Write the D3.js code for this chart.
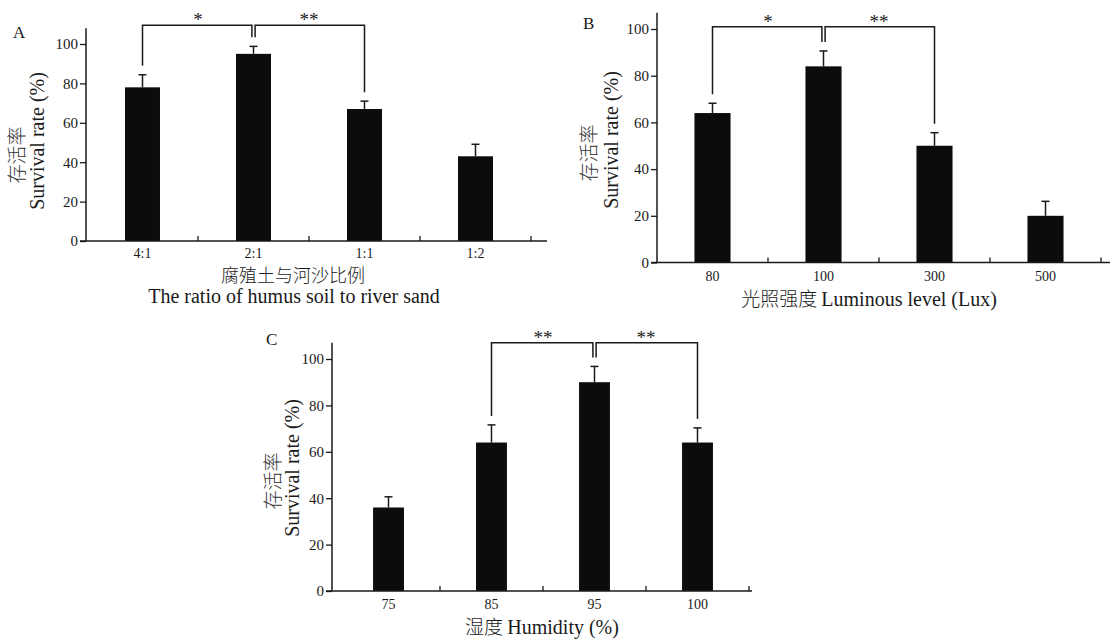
<!DOCTYPE html>
<html>
<head>
<meta charset="utf-8">
<script src="https://cdn.jsdelivr.net/npm/d3@7"></script>
<style>
  body { margin: 0; background: #fff; }
  svg { display: block; }
</style>
</head>
<body>
<svg width="1117" height="640"></svg>
<script>
const svg = d3.select('svg');

// data
const ratioCategories = ['4:1', '2:1', '1:1', '1:2'];
const ratioValues = [78, 95, 67, 43];
const ratioErrors = [6.4, 3.8, 4, 6.1];

const lightCategories = ['80', '100', '300', '500'];
const lightValues = [64, 84, 50, 20];
const lightErrors = [4.2, 6.6, 5.6, 6.2];

const humidityCategories = ['75', '85', '95', '100'];
const humidityValues = [36, 64, 90, 64];
const humidityErrors = [4.6, 7.6, 6.8, 6.3];

const yTicks = [0, 20, 40, 60, 80, 100];

// significance brackets: [from index, to index, label]
const ratioSig = [[0, 1, '*'], [1, 2, '**']];
const lightSig = [[0, 1, '*'], [1, 2, '**']];
const humiditySig = [[1, 2, '**'], [2, 3, '**']];

const serif = '"Liberation Serif", "Times New Roman", serif';
const cjk = '"Noto Sans CJK SC", sans-serif';
const ink = '#1a1a1a';

const panels = [
    {
        letter: 'A', letterPos: [13, 38],
        categories: ratioCategories, values: ratioValues, errors: ratioErrors, sig: ratioSig,
        yAxisX: 86, xRange: [87, 531], xEnd: 547, yRange: [241, 44], yMax: 108, barFrac: 0.315,
        bracketTop: 109.5, tickLabelY: 17,
        yTitle: {x: 44, y: 141, cnX: 24, cnY: 155},
        xTitle: [{x: 293, y: 282, text: '腐殖土与河沙比例', cn: true}, {x: 294, y: 303, text: 'The ratio of humus soil to river sand'}]
    },
    {
        letter: 'B', letterPos: [583, 29],
        categories: lightCategories, values: lightValues, errors: lightErrors, sig: lightSig,
        yAxisX: 657, xRange: [657, 1101], xEnd: 1110, yRange: [262.5, 29], yMax: 107, barFrac: 0.325,
        bracketTop: 101, tickLabelY: 18,
        yTitle: {x: 618, y: 140, cnX: 596, cnY: 153},
        xTitle: [{x: 869, y: 306, text: '光照强度 ', tail: 'Luminous level (Lux)'}]
    },
    {
        letter: 'C', letterPos: [266, 345],
        categories: humidityCategories, values: humidityValues, errors: humidityErrors, sig: humiditySig,
        yAxisX: 332, xRange: [337, 749], xEnd: 752, yRange: [591, 359], yMax: 107, barFrac: 0.3,
        bracketTop: 107, tickLabelY: 18,
        yTitle: {x: 299, y: 468, cnX: 280, cnY: 481},
        xTitle: [{x: 542, y: 634, text: '湿度 ', tail: 'Humidity (%)'}]
    }
];

const render = p => {
    const x = d3.scaleBand().domain(p.categories).range(p.xRange);
    const y = d3.scaleLinear().domain([0, 100]).range(p.yRange);
    const bw = x.bandwidth() * p.barFrac;
    const cx = i => x(p.categories[i]) + x.bandwidth() / 2;
    const g = svg.append('g');

    // bars
    g.selectAll('rect.bar').data(p.values).join('rect')
        .attr('class', 'bar')
        .attr('x', (d, i) => cx(i) - bw / 2)
        .attr('y', d => y(d))
        .attr('width', bw)
        .attr('height', d => y(0) - y(d))
        .attr('fill', '#0c0c0c');

    // error bars (upper only)
    const err = g.selectAll('g.err').data(p.values).join('g').attr('class', 'err')
        .attr('stroke', ink).attr('stroke-width', 1.5);
    err.append('line')
        .attr('x1', (d, i) => cx(i)).attr('x2', (d, i) => cx(i))
        .attr('y1', d => y(d)).attr('y2', (d, i) => y(d + p.errors[i]));
    err.append('line')
        .attr('x1', (d, i) => cx(i) - 4).attr('x2', (d, i) => cx(i) + 4)
        .attr('y1', (d, i) => y(d + p.errors[i])).attr('y2', (d, i) => y(d + p.errors[i]));

    // y axis
    const ya = g.append('g')
        .attr('transform', `translate(${p.yAxisX},0)`)
        .call(d3.axisLeft(y).tickValues(yTicks).tickSize(6).tickPadding(2));
    ya.select('.domain').remove();
    ya.selectAll('line').attr('stroke', ink).attr('stroke-width', 1.3);
    ya.selectAll('text').attr('font-family', serif).attr('font-size', 15).attr('fill', ink);
    g.append('line')
        .attr('x1', p.yAxisX).attr('x2', p.yAxisX)
        .attr('y1', y(0)).attr('y2', y(p.yMax))
        .attr('stroke', ink).attr('stroke-width', 1.5);

    // x axis
    const xa = g.append('g')
        .attr('transform', `translate(0,${y(0)})`)
        .call(d3.axisBottom(x).tickSize(0));
    xa.select('.domain').remove();
    xa.selectAll('text').attr('font-family', serif).attr('font-size', 14).attr('fill', ink)
        .attr('dy', null).attr('y', p.tickLabelY);
    g.append('line')
        .attr('x1', p.yAxisX - 6).attr('x2', p.xEnd)
        .attr('y1', y(0)).attr('y2', y(0))
        .attr('stroke', ink).attr('stroke-width', 1.5);
    g.selectAll('line.xtick').data(p.categories).join('line')
        .attr('class', 'xtick')
        .attr('x1', d => x(d) + x.bandwidth()).attr('x2', d => x(d) + x.bandwidth())
        .attr('y1', y(0)).attr('y2', y(0) - 5)
        .attr('stroke', ink).attr('stroke-width', 1.3);

    // significance brackets
    const top = y(p.bracketTop);
    const legEnd = i => y(p.values[i] + p.errors[i]) - 9;
    p.sig.forEach(([a, b, label], k) => {
        const xa0 = cx(a) + (k === 1 ? 1.6 : 0);
        const xb0 = cx(b) - (k === 0 ? 1.6 : 0);
        g.append('path')
            .attr('d', `M${xa0},${legEnd(a)}V${top}H${xb0}V${legEnd(b)}`)
            .attr('fill', 'none').attr('stroke', ink).attr('stroke-width', 1.5);
        g.append('text')
            .attr('x', (cx(a) + cx(b)) / 2).attr('y', top + 1)
            .attr('text-anchor', 'middle')
            .attr('font-family', serif).attr('font-size', 19).attr('fill', ink)
            .text(label);
    });

    // panel letter
    g.append('text')
        .attr('x', p.letterPos[0]).attr('y', p.letterPos[1])
        .attr('font-family', serif).attr('font-size', 17).attr('fill', ink)
        .text(p.letter);

    // y title (two lines)
    g.append('text')
        .attr('transform', `translate(${p.yTitle.x},${p.yTitle.y}) rotate(-90)`)
        .attr('text-anchor', 'middle')
        .attr('font-family', serif).attr('font-size', 20).attr('fill', ink)
        .text('Survival rate (%)');
    g.append('text')
        .attr('transform', `translate(${p.yTitle.cnX},${p.yTitle.cnY}) rotate(-90)`)
        .attr('text-anchor', 'middle')
        .attr('font-family', cjk).attr('font-weight', 300).attr('font-size', 19).attr('fill', '#333')
        .text('存活率');

    // x title
    p.xTitle.forEach(t => {
        const tx = g.append('text')
            .attr('x', t.x).attr('y', t.y)
            .attr('text-anchor', 'middle')
            .attr('font-size', 20).attr('fill', ink);
        if (t.cn) {
            tx.attr('font-family', cjk).attr('font-weight', 300).attr('font-size', 18).text(t.text);
        } else if (t.tail) {
            tx.append('tspan').attr('font-family', cjk).attr('font-weight', 300).attr('font-size', 19).text(t.text);
            tx.append('tspan').attr('font-family', serif).text(t.tail);
        } else {
            tx.attr('font-family', serif).text(t.text);
        }
    });
};

panels.forEach(render);
</script>
</body>
</html>
